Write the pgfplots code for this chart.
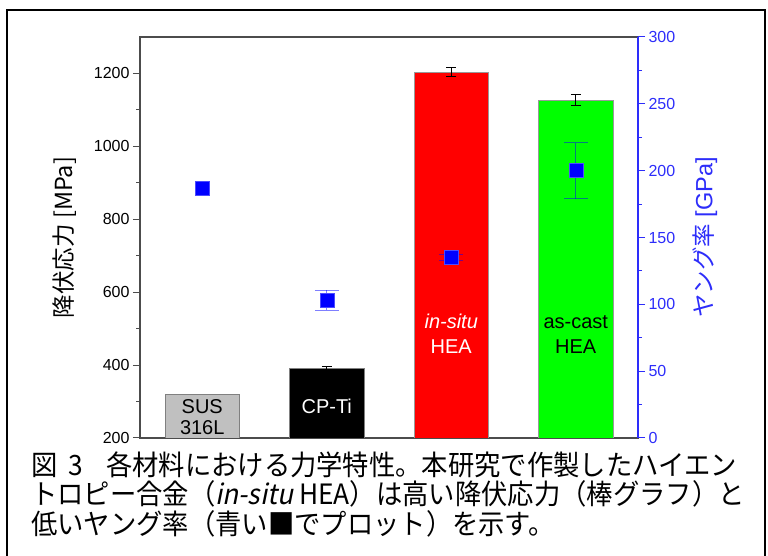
\documentclass[border=0pt]{standalone}
\usepackage{pgfplots}
\pgfplotsset{compat=1.18}
\usepackage{fontspec}
\setmainfont{Liberation Sans}
\newfontfamily\jp[AutoFakeSlant=0.2]{Noto Sans CJK JP}
\newfontfamily\jpc[FakeStretch=0.94, AutoFakeSlant=0.2]{Noto Sans CJK JP}
\definecolor{axblue}{RGB}{45,45,250}
\definecolor{sgray}{RGB}{192,192,192}
\definecolor{sgreen}{RGB}{0,255,0}
\definecolor{sred}{RGB}{255,0,0}
\begin{document}
\begin{tikzpicture}[x=1pt,y=1pt]
\path[use as bounding box] (0,0) rectangle (768,556);
\draw[line width=2.5pt] (7,-5) -- (7,546) -- (765,546) -- (765,-5);

\begin{axis}[
  at={(140pt,118pt)}, anchor=south west, scale only axis,
  width=498pt, height=401pt,
  xmin=0.5, xmax=4.5, ymin=200, ymax=1300,
  xtick=\empty, ytick={200,400,...,1200}, minor y tick num=1,
  ytick pos=left, tick align=outside,
  major tick length=7pt, minor tick length=4pt,
  axis line style={black!70, line width=1.2pt},
  tick style={black!70, line width=1pt},
  tick label style={font=\fontsize{16}{18}\selectfont},
  /pgf/number format/assume math mode=true,
  /pgf/number format/1000 sep={},
  ylabel={\jp 降伏応力 [MPa]},
  every axis y label/.style={at={(axis description cs:-0.1506,0.5)}, rotate=90, anchor=center, font=\fontsize{23.5}{26}\selectfont},
  clip=true,
]
\addplot[ybar, bar width=0.6, bar shift=0pt, fill=sgray, draw=black!50]
  coordinates {(1,320)};
\addplot[ybar, bar width=0.6, bar shift=0pt, fill=black, draw=black!50,
  error bars/.cd, y dir=both, y explicit,
  error bar style={black, line width=1pt},
  error mark options={black, mark size=5pt, line width=1pt, rotate=90}]
  coordinates {(2,391) +- (0,6)};
\addplot[ybar, bar width=0.6, bar shift=0pt, fill=sred, draw=black!40,
  error bars/.cd, y dir=both, y explicit,
  error bar style={black, line width=1pt},
  error mark options={black, mark size=5pt, line width=1pt, rotate=90}]
  coordinates {(3,1204) +- (0,12)};
\addplot[ybar, bar width=0.6, bar shift=0pt, fill=sgreen, draw=black!40,
  error bars/.cd, y dir=both, y explicit,
  error bar style={black, line width=1pt},
  error mark options={black, mark size=5pt, line width=1pt, rotate=90}]
  coordinates {(4,1127) +- (0,16)};

\node[font=\fontsize{20}{21.5}\selectfont, align=center, black] at (axis cs:1,257) {SUS\\316L};
\node[font=\fontsize{20}{21.5}\selectfont, align=center, white] at (axis cs:2,286) {CP-Ti};
\node[font=\fontsize{20}{25}\selectfont, align=center, white] at (axis cs:3,485) {\textit{in-situ}\\HEA};
\node[font=\fontsize{20}{25}\selectfont, align=center, black] at (axis cs:4,485) {as-cast\\HEA};
\end{axis}

\begin{axis}[
  at={(140pt,118pt)}, anchor=south west, scale only axis,
  width=498pt, height=401pt,
  xmin=0.5, xmax=4.5, ymin=0, ymax=300,
  axis x line=none, axis y line*=right,
  ytick={0,50,...,300}, minor y tick num=1,
  tick align=outside,
  major tick length=7pt, minor tick length=4pt,
  y axis line style={axblue, line width=1.6pt},
  tick style={axblue, line width=1pt},
  tick label style={font=\fontsize{16}{18}\selectfont, text=axblue},
  /pgf/number format/assume math mode=true,
  ylabel={{\jp ヤング率} [GPa]},
  every axis y label/.style={at={(axis description cs:1.1345,0.5)}, rotate=90, anchor=center, font=\fontsize{23.5}{26}\selectfont, text=axblue},
  clip=false,
]
\addplot[only marks, mark=square*, mark size=7pt,
  mark options={fill=blue, draw=blue!70}]
  coordinates {(1,187)};
\addplot[only marks, mark=square*, mark size=7pt,
  mark options={fill=blue, draw=blue!70},
  error bars/.cd, y dir=both, y explicit,
  error bar style={blue, opacity=0.5, line width=1.2pt},
  error mark options={blue, opacity=0.5, mark size=12pt, line width=1.2pt, rotate=90}]
  coordinates {(2,103) +- (0,7.5) (3,135) +- (0,2) (4,200) +- (0,21)};
\end{axis}

\begin{scope}[font=\jpc\fontsize{28}{30}\selectfont]
\node[anchor=base west, inner sep=0] at (31,80) {図\hspace{11pt}3\hspace{23pt}各材料における力学特性。本研究で作製したハイエン};
\node[anchor=base west, inner sep=0] at (31,51) {トロピー合金（\textit{in-situ} HEA）は高い降伏応力（棒グラフ）と};
\node[anchor=base west, inner sep=0] at (31,21) {低いヤング率（青い■でプロット）を示す。};
\end{scope}
\end{tikzpicture}
\end{document}
